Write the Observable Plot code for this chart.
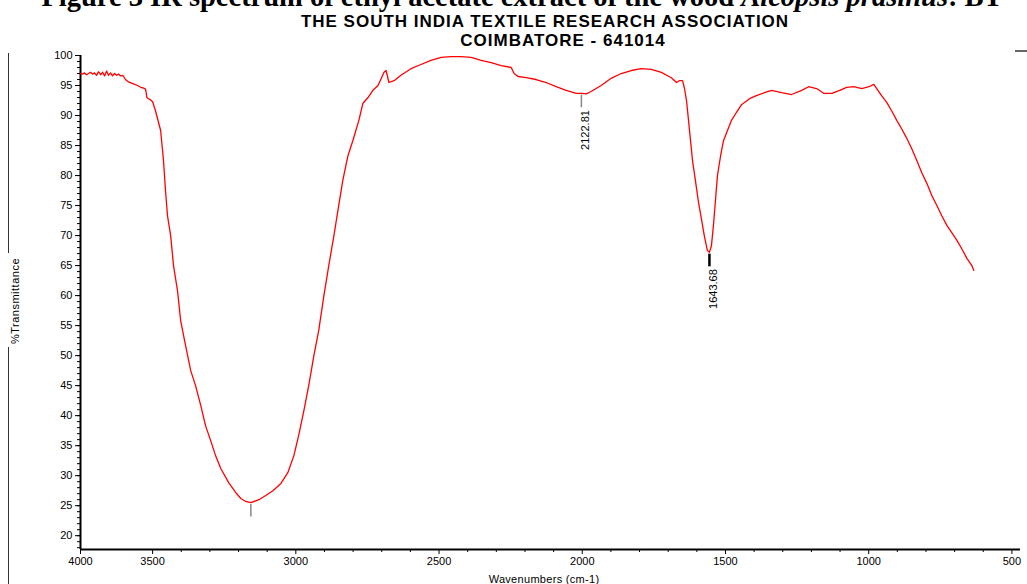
<!DOCTYPE html>
<html>
<head>
<meta charset="utf-8">
<script src="https://cdn.jsdelivr.net/npm/d3@7"></script>
<script src="https://cdn.jsdelivr.net/npm/@observablehq/plot@0.6"></script>
<style>
  html, body { margin: 0; padding: 0; background: #fff; }
  body { width: 1027px; height: 584px; overflow: hidden; position: relative; font-family: "Liberation Sans", Arial, sans-serif; }
  #chart { position: absolute; left: 0; top: 0; }
  .abs { position: absolute; white-space: nowrap; line-height: 1; color: #000; }
  #t0 { left: 522px; top: -19px; transform: translateX(-50%); font: bold 28.5px "Liberation Serif", "DejaVu Serif", serif; }
  #t0 i { font-style: italic; }
  #t1 { left: 545px; top: 12px; transform: translateX(-50%); font: bold 17px "Liberation Sans", Arial, sans-serif; letter-spacing: 1px; }
  #t2 { left: 563px; top: 31px; transform: translateX(-50%); font: bold 17px "Liberation Sans", Arial, sans-serif; letter-spacing: 1px; }
  #ylab { left: 15px; top: 301px; transform: translate(-50%, -50%) rotate(-90deg); font-size: 11px; letter-spacing: 0.5px; }
  #xlab { left: 544px; top: 574px; transform: translateX(-50%); font-size: 11px; letter-spacing: 0.3px; }
  .vline { position: absolute; left: 8px; width: 1px; background: #333; }
  #hline { position: absolute; left: 1015px; top: 50px; width: 12px; height: 2px; background: #666; }
</style>
</head>
<body>
<div id="chart"></div>
<div class="abs" id="t0">Figure 3 IR spectrum of ethyl acetate extract of the wood <i>Aleopsis prasinus</i>: BT</div>
<div class="abs" id="t1">THE SOUTH INDIA TEXTILE RESEARCH ASSOCIATION</div>
<div class="abs" id="t2">COIMBATORE - 641014</div>
<div class="abs" id="ylab">%Transmittance</div>
<div class="abs" id="xlab">Wavenumbers (cm-1)</div>
<div class="vline" style="top:53px;height:200px"></div>
<div class="vline" style="top:347px;height:237px"></div>
<div id="hline"></div>
<script>
// Wavenumbers (cm-1) and %Transmittance
const wavenumbers = [
  4000, 3986, 3972, 3958, 3944, 3931, 3917, 3903, 3889, 3875, 3861, 3847, 3833, 3819, 3806, 3792,
  3778, 3764, 3750, 3736, 3722, 3708, 3701, 3688, 3667, 3646, 3625, 3604, 3583, 3566, 3549, 3545,
  3540, 3528, 3514, 3500, 3490, 3472, 3462, 3455, 3448, 3437, 3427, 3413, 3402, 3385, 3367, 3350,
  3332, 3315, 3297, 3280, 3262, 3234, 3210, 3192, 3175, 3157, 3129, 3105, 3080, 3052, 3028, 3007,
  2990, 2972, 2955, 2937, 2920, 2902, 2885, 2867, 2853, 2836, 2818, 2801, 2780, 2766, 2748, 2731,
  2713, 2692, 2685, 2675, 2657, 2633, 2598, 2563, 2528, 2493, 2458, 2423, 2388, 2353, 2318, 2283,
  2248, 2238, 2224, 2196, 2161, 2126, 2091, 2056, 2021, 2003, 1986, 1969, 1934, 1899, 1864, 1829,
  1794, 1759, 1724, 1689, 1671, 1661, 1650, 1643, 1636, 1629, 1622, 1615, 1605, 1595, 1584, 1574,
  1563, 1556, 1549, 1542, 1535, 1528, 1517, 1507, 1493, 1479, 1462, 1444, 1416, 1392, 1364, 1339,
  1304, 1269, 1234, 1210, 1182, 1157, 1129, 1101, 1077, 1052, 1024, 999, 982, 972, 955, 937,
  920, 902, 885, 867, 850, 832, 815, 797, 780, 762, 745, 727, 710, 692, 675, 657,
  640, 633
];
const transmittance = [
  97.0, 96.9, 97.1, 96.8, 97.0, 97.2, 96.9, 97.1, 96.7, 97.3, 96.8, 97.2, 96.6, 97.4, 96.7, 97.1,
  96.6, 97.0, 96.7, 96.9, 96.6, 96.7, 96.5, 96.0, 95.6, 95.4, 95.2, 95.0, 94.7, 94.6, 94.4, 93.9,
  93.0, 92.8, 92.6, 92.3, 90.8, 87.5, 82.5, 77.5, 73.3, 70.0, 65.0, 60.8, 55.8, 51.7, 47.5, 45.0,
  41.7, 38.3, 35.8, 33.3, 31.2, 28.8, 27.2, 26.2, 25.7, 25.5, 26.0, 26.7, 27.5, 28.7, 30.5, 33.3,
  36.7, 40.8, 45.0, 50.0, 54.2, 60.0, 65.0, 70.0, 74.2, 79.2, 83.3, 85.8, 89.2, 92.0, 93.0, 94.2,
  95.0, 97.2, 97.5, 95.5, 95.8, 96.7, 97.8, 98.5, 99.2, 99.7, 99.8, 99.8, 99.7, 99.2, 98.8, 98.3,
  98.0, 97.0, 96.5, 96.3, 96.0, 95.5, 94.8, 94.2, 93.7, 93.7, 93.6, 94.0, 95.0, 96.2, 97.0, 97.5,
  97.8, 97.7, 97.2, 96.3, 95.5, 95.8, 95.8, 94.5, 92.5, 89.2, 85.8, 82.5, 79.2, 75.8, 72.8, 70.0,
  67.5, 67.2, 68.3, 71.7, 75.8, 80.0, 83.3, 85.8, 87.5, 89.2, 90.5, 91.8, 92.8, 93.3, 93.8, 94.2,
  93.8, 93.5, 94.2, 94.8, 94.5, 93.7, 93.7, 94.2, 94.7, 94.8, 94.5, 94.8, 95.2, 94.5, 93.3, 92.2,
  90.8, 89.2, 87.8, 86.2, 84.5, 82.5, 80.5, 78.7, 76.7, 75.0, 73.3, 71.7, 70.5, 69.2, 67.8, 66.2,
  65.0, 64.2
];

// Axis ticks
const xTickValues = [4000, 3500, 3000, 2500, 2000, 1500, 1000, 500];
const yTickValues = [20, 25, 30, 35, 40, 45, 50, 55, 60, 65, 70, 75, 80, 85, 90, 95, 100];

// Marked minima: where the marker sits on the drawn trace, and the printed label
const peakWavenumber = [2003, 1556, 3157];
const peakTransmittance = [93.7, 67.2, 25.5];
const peakLabel = ["2122.81", "1643.68", ""];

// The instrument's axis is compressed between 4000 and 3500 cm-1
const breakAt = 3500, compress = 72 / 143;
const axisPos = w => w > breakAt ? breakAt + (w - breakAt) * compress : w;
const axisInv = v => v > breakAt + 1e-6 ? Math.round(breakAt + (v - breakAt) / compress) : Math.round(v);

const spectrum = wavenumbers.map((w, i) => ({x: axisPos(w), t: transmittance[i]}));
const peaks = peakWavenumber.map((w, i) => ({x: axisPos(w), t: peakTransmittance[i], label: peakLabel[i], i}));

const yMin = 17.7, yMax = 100, xStart = axisPos(4000), xEnd = 470;

const chart = Plot.plot({
  width: 1027,
  height: 584,
  marginLeft: 80,
  marginRight: 7,
  marginTop: 55,
  marginBottom: 35,
  x: {type: "linear", domain: [xStart, xEnd]},
  y: {domain: [yMin, yMax]},
  style: {fontFamily: "Liberation Sans, Arial, sans-serif", fontSize: "11px", color: "#000", background: "#fff"},
  marks: [
    Plot.axisY({ticks: d3.range(18, 101, 1), tickSize: 3, text: null, label: null}),
    Plot.axisY({ticks: yTickValues, tickSize: 5, tickPadding: 3, label: null, fontSize: 11}),
    Plot.axisX({ticks: d3.range(3400, 500, -100).filter(v => v % 500 !== 0), tickSize: 3, text: null, label: null}),
    Plot.axisX({ticks: xTickValues.map(axisPos), tickSize: 5, tickPadding: 3, label: null, fontSize: 11,
      tickFormat: v => String(axisInv(v))}),
    Plot.ruleX([xStart], {y1: yMin, y2: yMax, stroke: "#000", strokeWidth: 2}),
    Plot.ruleY([yMin], {x1: xStart, x2: xEnd, stroke: "#000", strokeWidth: 2}),
    Plot.line(spectrum, {x: "x", y: "t", stroke: "#ff0000", strokeWidth: 1.3}),
    Plot.ruleX(peaks, {x: "x", y1: d => d.t - 0.3, y2: d => d.t - 2.4,
      stroke: d => d.i === 1 ? "#000" : "#888", strokeWidth: d => d.i === 1 ? 2.5 : 1.5}),
    Plot.text(peaks.filter(d => d.label), {x: "x", y: d => d.t - 2.8, text: "label", rotate: -90,
      textAnchor: "end", lineAnchor: "middle", dx: 4, fontSize: 11, fill: "#000"})
  ]
});
document.getElementById("chart").appendChild(chart);
</script>
</body>
</html>
